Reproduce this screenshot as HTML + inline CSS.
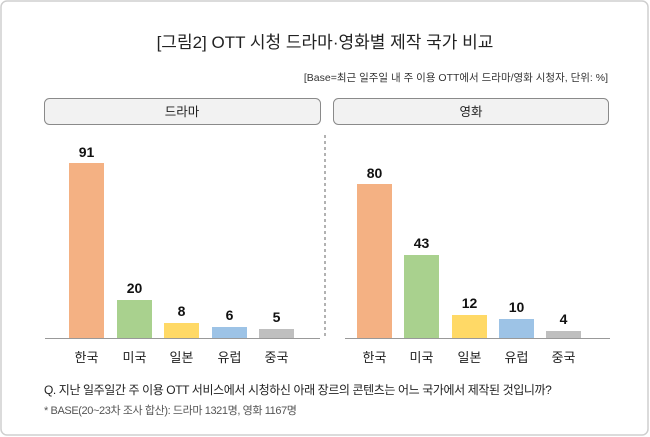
<!DOCTYPE html>
<html><head><meta charset="utf-8"><style>
html,body{margin:0;padding:0;background:#fff}
svg{display:block}
text{font-family:"Liberation Sans","Noto Sans CJK KR",sans-serif}
</style></head><body>
<svg width="650" height="437" viewBox="0 0 650 437" xmlns="http://www.w3.org/2000/svg">
<rect x="1" y="1" width="647" height="434" rx="6" fill="#fff" stroke="#cfcfcf" stroke-width="1.5"/>
<text x="325" y="48" font-size="17" text-anchor="middle" fill="#222">[그림2] OTT 시청 드라마·영화별 제작 국가 비교</text>
<text x="608" y="81" font-size="10.5" text-anchor="end" fill="#333">[Base=최근 일주일 내 주 이용 OTT에서 드라마/영화 시청자, 단위: %]</text>
<rect x="36" y="99" width="220" height="0" fill="none"/>
<rect x="44.5" y="98.5" width="276" height="26" rx="5" fill="#f2f2f2" stroke="#8a8a8a"/>
<text x="182" y="116" font-size="12.5" text-anchor="middle" fill="#222">드라마</text>
<rect x="333.5" y="98.5" width="275" height="26" rx="5" fill="#f2f2f2" stroke="#8a8a8a"/>
<text x="471" y="116" font-size="12.5" text-anchor="middle" fill="#222">영화</text>
<line x1="325" y1="135" x2="325" y2="338" stroke="#666" stroke-dasharray="3,3"/>
<g>
<rect x="69" y="163" width="35" height="175" fill="#f4b183"/>
<rect x="117" y="300" width="35" height="38" fill="#a9d18e"/>
<rect x="164" y="323" width="35" height="15" fill="#ffd966"/>
<rect x="212" y="327" width="35" height="11" fill="#9dc3e6"/>
<rect x="259" y="329" width="35" height="9" fill="#bfbfbf"/>
<rect x="357" y="184" width="35" height="154" fill="#f4b183"/>
<rect x="404" y="255" width="35" height="83" fill="#a9d18e"/>
<rect x="452" y="315" width="35" height="23" fill="#ffd966"/>
<rect x="499" y="319" width="35" height="19" fill="#9dc3e6"/>
<rect x="546" y="331" width="35" height="7" fill="#bfbfbf"/>
</g>
<line x1="45" y1="338.5" x2="320" y2="338.5" stroke="#999"/>
<line x1="345" y1="338.5" x2="610" y2="338.5" stroke="#999"/>
<g font-size="14" font-weight="bold" text-anchor="middle" fill="#111">
<text x="86.5" y="157">91</text><text x="134.5" y="293">20</text><text x="181.5" y="316">8</text><text x="229.5" y="320">6</text><text x="276.5" y="322">5</text>
<text x="374.5" y="178">80</text><text x="421.5" y="248">43</text><text x="469.5" y="308">12</text><text x="516.5" y="312">10</text><text x="563.5" y="324">4</text>
</g>
<g font-size="13" text-anchor="middle" fill="#222">
<text x="86.5" y="362">한국</text><text x="134.5" y="362">미국</text><text x="181.5" y="362">일본</text><text x="229.5" y="362">유럽</text><text x="276.5" y="362">중국</text>
<text x="374.5" y="362">한국</text><text x="421.5" y="362">미국</text><text x="469.5" y="362">일본</text><text x="516.5" y="362">유럽</text><text x="563.5" y="362">중국</text>
</g>
<text x="44" y="394" font-size="12" fill="#222" letter-spacing="-0.4">Q. 지난 일주일간 주 이용 OTT 서비스에서 시청하신 아래 장르의 콘텐츠는 어느 국가에서 제작된 것입니까?</text>
<text x="44" y="414" font-size="11" fill="#555" letter-spacing="-0.4">* BASE(20~23차 조사 합산): 드라마 1321명, 영화 1167명</text>
</svg>
</body></html>
